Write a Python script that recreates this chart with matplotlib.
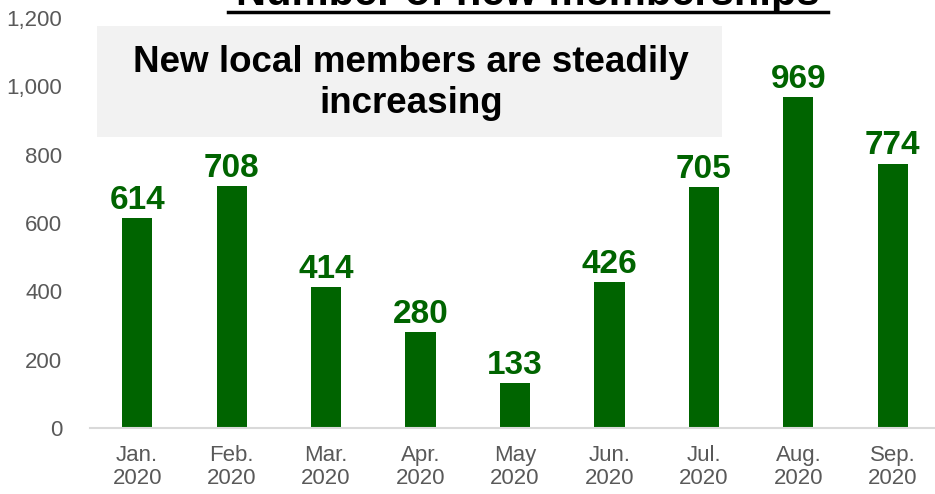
import matplotlib.pyplot as plt
from matplotlib.lines import Line2D
from matplotlib.patches import Rectangle

plt.rcParams['font.family'] = ['Liberation Sans', 'DejaVu Sans']

# data
months = ['Jan.\n2020', 'Feb.\n2020', 'Mar.\n2020', 'Apr.\n2020', 'May\n2020',
          'Jun.\n2020', 'Jul.\n2020', 'Aug.\n2020', 'Sep.\n2020']
members = [614, 708, 414, 280, 133, 426, 705, 969, 774]
yticks = [0, 200, 400, 600, 800, 1000, 1200]

green = '#006400'
W, H = 935, 494

fig = plt.figure(figsize=(W / 100, H / 100), dpi=100)
ax = fig.add_axes([90 / W, 66 / H, 850 / W, 410 / H])

xs = range(len(members))
ax.bar(xs, members, width=0.32, color=green, zorder=2)
for x, v in zip(xs, members):
    ax.text(x, v + 6, str(v), ha='center', va='bottom', fontsize=24,
            fontweight='bold', color=green)

ax.set_xlim(-0.5, 8.5)
ax.set_ylim(0, 1200)
ax.set_yticks(yticks)
ax.set_yticklabels(['{:,}'.format(t) for t in yticks])
ax.set_xticks(list(xs))
ax.set_xticklabels(months, linespacing=1.15)
ax.tick_params(axis='both', length=0, labelsize=16, colors='#595959')
ax.tick_params(axis='x', pad=12)
ax.tick_params(axis='y', pad=20)
for s in ['top', 'right', 'left']:
    ax.spines[s].set_visible(False)
ax.spines['bottom'].set_color('#d9d9d9')
ax.spines['bottom'].set_linewidth(1.5)

# headline box
fig.patches.append(Rectangle((97 / W, 1 - 137 / H), 625 / W, 111 / H,
                             transform=fig.transFigure, facecolor='#f2f2f2',
                             edgecolor='none', zorder=3))
fig.text(411 / W, 1 - 83 / H, 'New local members are steadily\nincreasing',
         ha='center', va='center', fontsize=26.5, fontweight='bold',
         linespacing=1.2, zorder=4)

# title, mostly cut off at the top, underlined
fig.text(528 / W, 1 - 5 / H, 'Number of new memberships', ha='center',
         va='baseline', fontsize=30, fontweight='bold')
fig.lines.append(Line2D([228 / W, 828 / W], [1 - 12 / H, 1 - 12 / H],
                        transform=fig.transFigure, color='black', lw=2.5))

fig.savefig('out.png', dpi=100)
